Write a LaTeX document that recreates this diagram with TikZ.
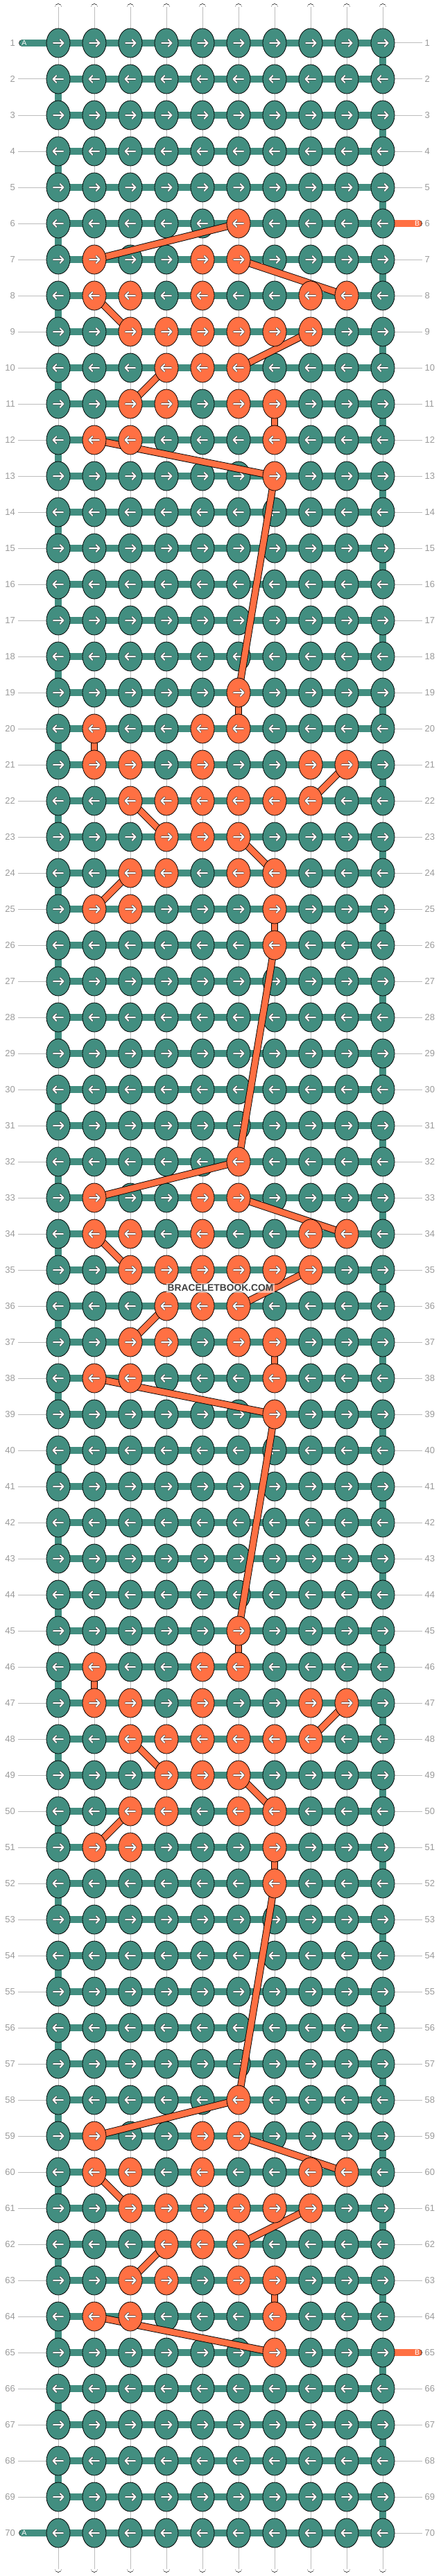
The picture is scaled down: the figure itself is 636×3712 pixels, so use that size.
\documentclass[tikz,border=0pt]{standalone}
\usepackage{fontspec}
\setmainfont{Liberation Sans}
\usetikzlibrary{shapes.geometric}
\definecolor{tealk}{HTML}{428E80}
\definecolor{orng}{HTML}{FF7043}
\definecolor{lblgray}{HTML}{9A9A9A}
\definecolor{rulegray}{HTML}{BDBDBD}
\definecolor{wmark}{HTML}{404040}
\pgfdeclarelayer{tk}
\pgfdeclarelayer{ln}
\pgfdeclarelayer{top}
\pgfsetlayers{main,tk,ln,top}
\tikzset{
  knotbase/.style={ellipse, draw=black, line width=0.8pt, minimum width=34pt, minimum height=42pt, inner sep=0pt},
  knotT/.style={knotbase, fill=tealk},
  knotO/.style={knotbase, fill=orng},
  arrowunder/.style={line width=3.3pt, black!75, line cap=round, line join=round},
  arrowover/.style={line width=2.0pt, white, line cap=round, line join=round},
  warpout/.style={line width=10.7pt, black, line cap=round},
  warpin/.style={line width=9.1pt, white, line cap=round},
  warpmid/.style={line width=0.8pt, rulegray},
  barout/.style={line width=10.7pt, black},
  barin/.style={line width=9.1pt, tealk},
  tailout/.style={line width=10.7pt, black, line cap=round},
  tailinA/.style={line width=9.1pt, tealk, line cap=round},
  tailinB/.style={line width=9.1pt, orng, line cap=round},
  pathout/.style={line width=10.5pt, black},
  pathin/.style={line width=8.7pt, orng},
  rowlbl/.style={font=\fontsize{13}{13}\selectfont, text=lblgray, inner sep=0pt},
  ruleline/.style={line width=1pt, rulegray},
  taillbl/.style={font=\fontsize{10.5}{10.5}\selectfont, text=white, inner sep=0pt},
  wmstyle/.style={font=\bfseries\fontsize{13.8}{14}\selectfont, text=wmark, fill=white, fill opacity=0.55, text opacity=1, inner xsep=2pt, inner ysep=2.5pt},
}
\newcommand\markrow[2]{\foreach \mc in {#2}{\expandafter\xdef\csname isor-#1-\mc\endcsname{1}}}
\newcommand\knotarrow[3]{%
  \draw[arrowunder] ({#1-7*(#3)},#2) -- ({#1+7.5*(#3)},#2) ({#1+2.8*(#3)},{#2-4.8}) -- ({#1+7.5*(#3)},#2) -- ({#1+2.8*(#3)},{#2+4.8});
  \draw[arrowover] ({#1-7*(#3)},#2) -- ({#1+7.5*(#3)},#2) ({#1+2.8*(#3)},{#2-4.8}) -- ({#1+7.5*(#3)},#2) -- ({#1+2.8*(#3)},{#2+4.8});
}
\begin{document}
\begin{tikzpicture}[x=1pt,y=-1pt]
\useasboundingbox (0,0) rectangle (636,3712);
% which knots are orange
\foreach \b in {6,19,32,45,58}{
  \pgfmathtruncatemacro\rr{\b}\markrow{\rr}{6}
  \pgfmathtruncatemacro\rr{\b+1}\markrow{\rr}{2,5,6}
  \pgfmathtruncatemacro\rr{\b+2}\markrow{\rr}{2,3,5,8,9}
  \pgfmathtruncatemacro\rr{\b+3}\markrow{\rr}{3,4,5,6,7,8}
  \pgfmathtruncatemacro\rr{\b+4}\markrow{\rr}{4,5,6}
  \pgfmathtruncatemacro\rr{\b+5}\markrow{\rr}{3,4,6,7}
  \pgfmathtruncatemacro\rr{\b+6}\markrow{\rr}{2,3,7}
  \pgfmathtruncatemacro\rr{\b+7}\markrow{\rr}{7}
}
% teal knots
\begin{pgfonlayer}{tk}
\foreach \r in {1,...,70}{
  \pgfmathsetmacro\y{62+52*(\r-1)}
  \pgfmathtruncatemacro\d{1-2*mod(\r+1,2)}
  \foreach \c in {1,...,10}{
    \pgfmathsetmacro\x{84+52*(\c-1)}
    \ifcsname isor-\r-\c\endcsname\else
      \node[knotT] (k-\r-\c) at (\x,\y) {};
      \knotarrow{\x}{\y}{\d}
    \fi
  }
}
\end{pgfonlayer}
% orange knots
\begin{pgfonlayer}{top}
\foreach \r in {1,...,70}{
  \pgfmathsetmacro\y{62+52*(\r-1)}
  \pgfmathtruncatemacro\d{1-2*mod(\r+1,2)}
  \foreach \c in {1,...,10}{
    \pgfmathsetmacro\x{84+52*(\c-1)}
    \ifcsname isor-\r-\c\endcsname
      \node[knotO] (k-\r-\c) at (\x,\y) {};
      \knotarrow{\x}{\y}{\d}
    \fi
  }
}
\node[wmstyle] (wm) at (318,1856) {BRACELETBOOK.COM};
\end{pgfonlayer}
% warp threads
\foreach \c in {1,...,10}{
  \pgfmathsetmacro\x{84+52*(\c-1)}
  \coordinate (wt-\c) at (\x,10.5);
  \coordinate (wb-\c) at (\x,3701.5);
  \draw[warpout] (wt-\c) -- (wb-\c);
  \draw[warpin] (wt-\c) -- (wb-\c);
  \draw[warpmid] (wt-\c) -- (wb-\c);
}
% working thread rows
\foreach \r in {1,...,70}{
  \draw[barout] (k-\r-1.center) -- (k-\r-10.center);
  \draw[barin] (k-\r-1.center) -- (k-\r-10.center);
}
\foreach \r in {1,3,...,69}{
  \pgfmathtruncatemacro\rn{\r+1}
  \draw[barout] (k-\r-10.center) -- (k-\rn-10.center);
  \draw[barin] (k-\r-10.center) -- (k-\rn-10.center);
}
\foreach \r in {2,4,...,68}{
  \pgfmathtruncatemacro\rn{\r+1}
  \draw[barout] (k-\r-1.center) -- (k-\rn-1.center);
  \draw[barin] (k-\r-1.center) -- (k-\rn-1.center);
}
% tails
\coordinate (tA1) at (32.5,62);
\coordinate (tA70) at (32.5,3650);
\coordinate (tB6) at (603.6,322);
\coordinate (tB65) at (603.6,3390);
\draw[tailout] (tA1) -- (k-1-1.center);
\draw[tailinA] (tA1) -- (k-1-1.center);
\draw[tailout] (tA70) -- (k-70-1.center);
\draw[tailinA] (tA70) -- (k-70-1.center);
\draw[tailout] (k-6-10.center) -- (tB6);
\draw[tailinB] (k-6-10.center) -- (tB6);
\draw[tailout] (k-65-10.center) -- (tB65);
\draw[tailinB] (k-65-10.center) -- (tB65);
\node[taillbl] (lA1) at (34.8,62) {A};
\node[taillbl] (lA70) at (34.8,3650) {A};
\node[taillbl] (lB6) at (601.5,322) {B};
\node[taillbl] (lB65) at (601.5,3390) {B};
% row labels
\foreach \r in {1,...,70}{
  \pgfmathsetmacro\y{62+52*(\r-1)}
  \node[rowlbl, anchor=east] (ll-\r) at (22,\y) {\r};
  \node[rowlbl, anchor=west] (rl-\r) at (612.5,\y) {\r};
  \ifnum\r>1 \ifnum\r<70
    \draw[ruleline] ([xshift=4pt]ll-\r.east) -- (k-\r-1.west);
  \fi\fi
  \ifnum\r=6 \else \ifnum\r=65 \else
    \draw[ruleline] (k-\r-10.east) -- ([xshift=-3.5pt]rl-\r.west);
  \fi\fi
}
% path of thread B
\begin{pgfonlayer}{ln}
\foreach \ra/\ca/\rb/\cb in {
  6/6/7/2, 7/6/8/9, 8/2/9/3, 9/8/10/6, 10/4/11/3, 11/7/12/7, 12/2/13/7,
  13/7/19/6,
  19/6/20/6, 20/2/21/2, 21/9/22/8, 22/3/23/4, 23/6/24/7, 24/3/25/2, 25/7/26/7,
  26/7/32/6,
  32/6/33/2, 33/6/34/9, 34/2/35/3, 35/8/36/6, 36/4/37/3, 37/7/38/7, 38/2/39/7,
  39/7/45/6,
  45/6/46/6, 46/2/47/2, 47/9/48/8, 48/3/49/4, 49/6/50/7, 50/3/51/2, 51/7/52/7,
  52/7/58/6,
  58/6/59/2, 59/6/60/9, 60/2/61/3, 61/8/62/6, 62/4/63/3, 63/7/64/7, 64/2/65/7}{
  \draw[pathout] (k-\ra-\ca.center) -- (k-\rb-\cb.center);
  \draw[pathin] (k-\ra-\ca.center) -- (k-\rb-\cb.center);
}
\end{pgfonlayer}
\end{tikzpicture}
\end{document}
